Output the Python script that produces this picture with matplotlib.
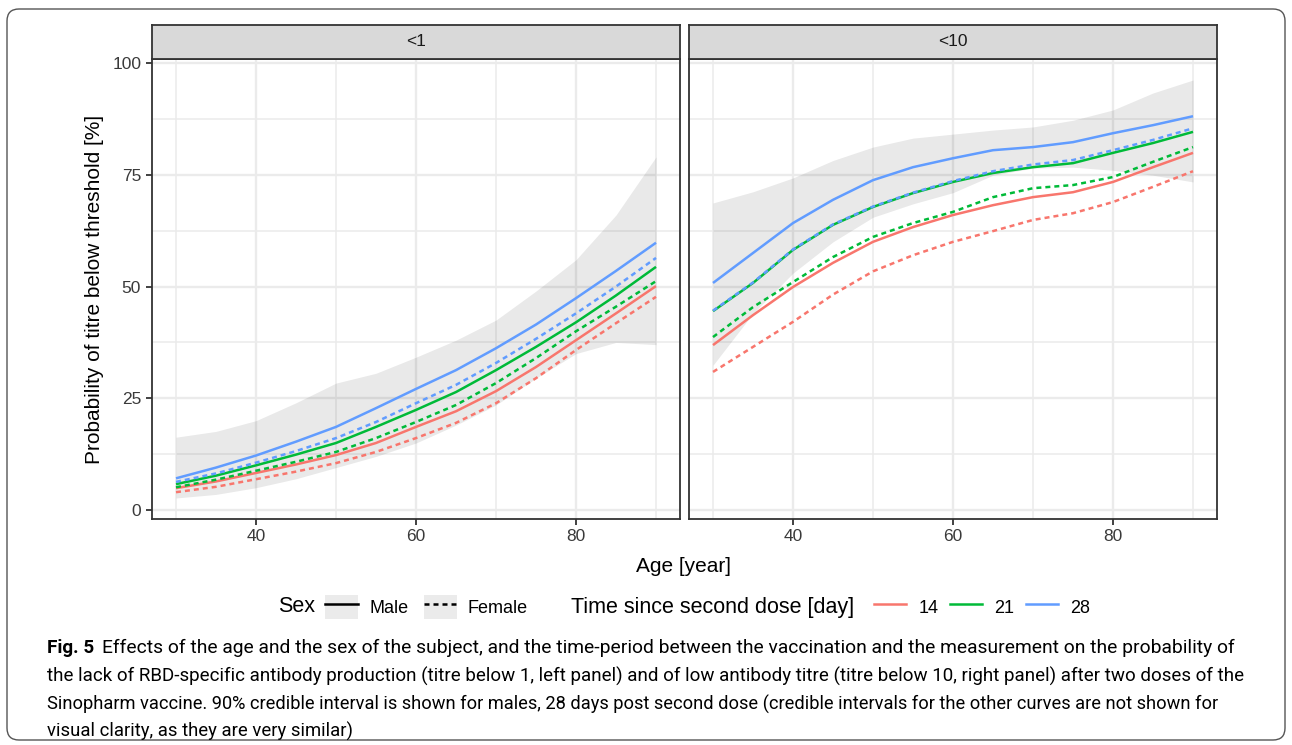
import matplotlib
matplotlib.use("Agg")
import matplotlib.pyplot as plt
from matplotlib.lines import Line2D
from matplotlib.patches import Patch, FancyBboxPatch

# ---------------- data ----------------
ages = [30, 35, 40, 45, 50, 55, 60, 65, 70, 75, 80, 85, 90]

# panel "<1"
l_m14 = [4.9, 6.4, 8.3, 10.2, 12.3, 15.0, 18.6, 22.1, 26.6, 32.0, 38.0, 44.0, 50.1]
l_f14 = [4.0, 5.2, 6.9, 8.6, 10.5, 13.0, 16.1, 19.5, 23.9, 29.5, 35.8, 41.8, 47.7]
l_m21 = [5.8, 7.7, 10.0, 12.4, 15.0, 18.6, 22.4, 26.4, 31.3, 36.5, 42.0, 48.0, 54.4]
l_f21 = [5.1, 6.8, 8.8, 10.8, 13.0, 16.1, 19.7, 23.5, 28.4, 34.0, 40.0, 45.5, 51.2]
l_m28 = [7.1, 9.5, 12.2, 15.3, 18.6, 22.8, 27.1, 31.3, 36.2, 41.5, 47.4, 53.5, 59.8]
l_f28 = [6.3, 8.2, 10.6, 13.2, 16.1, 19.7, 23.9, 28.0, 32.9, 38.3, 44.0, 50.0, 56.4]
l_lo = [2.7, 3.5, 5.0, 7.0, 9.5, 12.0, 15.0, 19.0, 23.5, 29.5, 35.0, 37.5, 37.0]
l_hi = [16.3, 17.6, 20.0, 24.0, 28.4, 30.6, 34.2, 38.0, 42.5, 49.0, 56.0, 66.0, 79.0]

# panel "<10"
r_m14 = [36.9, 43.6, 49.9, 55.3, 60.0, 63.3, 66.0, 68.2, 70.0, 71.1, 73.4, 76.7, 79.9]
r_f14 = [30.9, 36.5, 42.1, 48.2, 53.4, 57.0, 60.0, 62.4, 64.9, 66.4, 68.9, 72.3, 75.8]
r_m21 = [44.5, 50.8, 58.2, 63.8, 67.8, 70.9, 73.4, 75.4, 76.7, 77.6, 79.9, 82.1, 84.6]
r_f21 = [38.7, 45.4, 51.0, 56.6, 61.1, 64.2, 66.7, 70.0, 72.0, 72.7, 74.5, 77.9, 81.2]
r_m28 = [50.8, 57.5, 64.2, 69.4, 73.8, 76.7, 78.7, 80.5, 81.2, 82.3, 84.3, 86.1, 88.1]
r_f28 = [44.6, 50.9, 58.3, 63.9, 67.9, 71.0, 73.6, 75.8, 77.3, 78.3, 80.5, 82.8, 85.4]
r_lo = [32.4, 44.0, 53.0, 60.0, 65.5, 68.5, 71.0, 74.9, 76.5, 76.7, 76.0, 74.9, 73.4]
r_hi = [68.7, 71.2, 74.3, 78.2, 81.2, 83.2, 84.1, 85.0, 85.7, 87.2, 89.5, 93.3, 96.2]

panel_titles = ["<1", "<10"]
x_ticks = [40, 60, 80]
y_ticks = [0, 25, 50, 75, 100]
days = ["14", "21", "28"]
sexes = ["Male", "Female"]

caption_lines = [
    "Effects of the age and the sex of the subject, and the time-period between the vaccination and the measurement on the probability of",
    "the lack of RBD-specific antibody production (titre below 1, left panel) and of low antibody titre (titre below 10, right panel) after two doses of the",
    "Sinopharm vaccine. 90% credible interval is shown for males, 28 days post second dose (credible intervals for the other curves are not shown for",
    "visual clarity, as they are very similar)",
]

# ---------------- style ----------------
plt.rcParams['font.family'] = ['Liberation Sans', 'DejaVu Sans']
colors = {"14": "#F8766D", "21": "#00BA38", "28": "#619CFF"}
DARK = "#333333"
W, H = 1292, 745

fig = plt.figure(figsize=(W / 100, H / 100), dpi=100)


def px_axes(l, t, r, b):
    return fig.add_axes([l / W, 1 - b / H, (r - l) / W, (b - t) / H])


panels = [
    (px_axes(152, 59, 680, 519), px_axes(152, 25, 680, 59),
     {"14": (l_m14, l_f14), "21": (l_m21, l_f21), "28": (l_m28, l_f28)}, l_lo, l_hi),
    (px_axes(689, 59, 1217, 519), px_axes(689, 25, 1217, 59),
     {"14": (r_m14, r_f14), "21": (r_m21, r_f21), "28": (r_m28, r_f28)}, r_lo, r_hi),
]

LW = 1.8
DASH = (2.0, 1.6)

for i, (ax, sax, series, lo, hi) in enumerate(panels):
    ax.set_facecolor("white")
    ax.fill_between(ages, lo, hi, color="black", alpha=0.085, lw=0, zorder=1)
    for d in days:
        m, f = series[d]
        ax.plot(ages, m, color=colors[d], lw=LW, solid_capstyle="butt",
                solid_joinstyle="round", zorder=3)
        ax.plot(ages, f, color=colors[d], lw=LW, linestyle=(0, DASH),
                dash_capstyle="butt", dash_joinstyle="round", zorder=3)
    ax.set_xlim(27, 93)
    ax.set_ylim(-2.0, 100.9)
    ax.set_xticks(x_ticks)
    ax.set_xticks([30, 50, 70, 90], minor=True)
    ax.set_yticks(y_ticks)
    ax.set_yticks([12.5, 37.5, 62.5, 87.5], minor=True)
    ax.grid(which="major", color="#EBEBEB", lw=1.7, zorder=0)
    ax.grid(which="minor", color="#EBEBEB", lw=1.1, zorder=0)
    ax.set_axisbelow(True)
    for s in ax.spines.values():
        s.set_color(DARK)
        s.set_linewidth(1.3)
    ax.tick_params(which="minor", length=0)
    ax.tick_params(which="major", color=DARK, length=4.5, width=1.3,
                   labelsize=12.5, labelcolor="#3A3A3A")
    ax.tick_params(axis="x", pad=2.5)
    ax.tick_params(axis="y", pad=3.3)
    if i == 1:
        ax.tick_params(axis="y", length=0, labelleft=False)

    sax.set_facecolor("#D9D9D9")
    sax.set_xticks([])
    sax.set_yticks([])
    for s in sax.spines.values():
        s.set_color(DARK)
        s.set_linewidth(1.3)
    sax.text(0.5, 0.5, panel_titles[i], transform=sax.transAxes, ha="center",
             va="center", fontsize=12.5, color="#1A1A1A")

# axis titles
fig.text(95 / W, 1 - 289 / H, "Probability of titre below threshold [%]",
         rotation=90, ha="center", va="center", fontsize=15, color="black")
fig.text(683 / W, 1 - 566 / H, "Age [year]", ha="center", va="center",
         fontsize=15, color="black")

# legends
LEG_Y = 1 - 607 / H
fig.text(278 / W, LEG_Y, "Sex", ha="left", va="center", fontsize=15.5)
sex_handles = [
    (Patch(facecolor="#EBEBEB", edgecolor="none"),
     Line2D([], [], color="black", lw=LW)),
    (Patch(facecolor="#EBEBEB", edgecolor="none"),
     Line2D([], [], color="black", lw=LW, linestyle=(0, DASH))),
]
leg1 = fig.legend(sex_handles, sexes, loc="center left",
                  bbox_to_anchor=(325 / W, LEG_Y), ncol=2, frameon=False,
                  fontsize=13, handlelength=1.85, handleheight=1.75,
                  handletextpad=0.6, columnspacing=0.85, borderpad=0,
                  borderaxespad=0)
fig.text(571 / W, LEG_Y, "Time since second dose [day]", ha="left",
         va="center", fontsize=15.5)
day_handles = [Line2D([], [], color=colors[d], lw=LW) for d in days]
leg2 = fig.legend(day_handles, days, loc="center left",
                  bbox_to_anchor=(874 / W, LEG_Y), ncol=3, frameon=False,
                  fontsize=13, handlelength=1.75, handleheight=1.75,
                  handletextpad=0.7, columnspacing=0.65, borderpad=0,
                  borderaxespad=0)

# caption frame
box = FancyBboxPatch((0.07, 0.05), (1285 - 7) / 100, (740 - 9) / 100,
                     boxstyle="round,pad=0,rounding_size=0.12",
                     transform=fig.dpi_scale_trans, facecolor="none",
                     edgecolor="#555555", lw=1.0)
fig.patches.append(box)

# caption text, each line fitted to the reference line width
cap_fam = ['Liberation Sans Narrow', 'Roboto', 'DejaVu Sans']
base = [646, 674, 702, 729]
line_end = [1228, 1238, 1214, None]
fig.canvas.draw()
renderer = fig.canvas.get_renderer()


def text_width(s, size, **kw):
    probe = fig.text(0, 0, s, fontsize=size, family=cap_fam, **kw)
    w = probe.get_window_extent(renderer).width
    probe.remove()
    return w


s2 = 12 * (line_end[1] - 47) / text_width(caption_lines[1], 12)
s3 = 12 * (line_end[2] - 47) / text_width(caption_lines[2], 12)
avg = (s2 + s3) / 2

figlab = fig.text(47 / W, 1 - base[0] / H, "Fig. 5", fontsize=avg * 1.02,
                  fontweight="bold", family=cap_fam, va="center_baseline")
fig.canvas.draw()
fig5_end = figlab.get_window_extent(renderer).x1
start1 = fig5_end + 8
s1 = 12 * (line_end[0] - start1) / text_width(caption_lines[0], 12)

sizes = [s1, s2, s3, avg]
starts = [start1, 47, 47, 47]
for ln, y, x0, s in zip(caption_lines, base, starts, sizes):
    fig.text(x0 / W, 1 - y / H, ln, fontsize=s, family=cap_fam,
             va="center_baseline")

fig.savefig("out.png", dpi=100, facecolor="white")
